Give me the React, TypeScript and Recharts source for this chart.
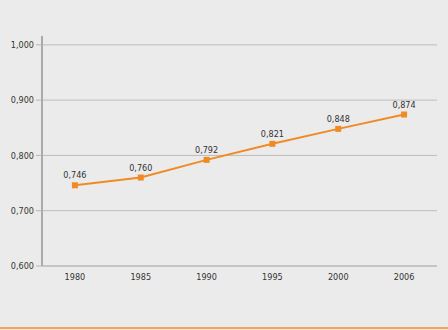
import React from 'react';
import { ComposedChart, Line, XAxis, YAxis, CartesianGrid, LabelList } from 'recharts';

const years = ['1980', '1985', '1990', '1995', '2000', '2006'];
const values = [0.746, 0.76, 0.792, 0.821, 0.848, 0.874];
const yTicks = [0.6, 0.7, 0.8, 0.9, 1.0];

const data = years.map((year, i) => ({ year, value: values[i] }));

const fmt = (v: number) => v.toFixed(3).replace('.', ',');
const font = '"DejaVu Sans Condensed", "Liberation Sans Narrow", "Liberation Sans", sans-serif';

const Square = (props: any) => {
  const { cx, cy } = props;
  return <rect x={cx - 3} y={cy - 3} width={6} height={6} fill="#f08a24" />;
};

const App = () => {
  return (
    <div style={{ position: 'absolute', left: 0, top: 0, width: 448, height: 330, background: '#ebebeb' }}>
      <ComposedChart width={448} height={326} data={data} margin={{ top: 36, right: 11, bottom: 30, left: 0 }}>
        <CartesianGrid vertical={false} horizontalValues={yTicks} stroke="#bdbdbd" strokeWidth={1} />
        <XAxis
          dataKey="year"
          scale="band"
          tickLine={false}
          axisLine={{ stroke: '#b5b5b5', strokeWidth: 1 }}
          tick={{ fill: '#333', fontSize: 9, fontFamily: font }}
          tickMargin={2}
          height={30}
        />
        <YAxis
          domain={[0.6, 1.016]}
          ticks={yTicks}
          interval={0}
          tickFormatter={fmt}
          width={42}
          tickSize={6}
          tickLine={{ stroke: '#b5b5b5' }}
          axisLine={{ stroke: '#aaaaaa', strokeWidth: 2 }}
          tick={{ fill: '#333', fontSize: 9, fontFamily: font }}
          tickMargin={2}
        />
        <Line
          dataKey="value"
          stroke="#f08a24"
          strokeWidth={2}
          dot={<Square />}
          activeDot={false}
          isAnimationActive={false}
        >
          <LabelList
            dataKey="value"
            position="top"
            offset={7}
            formatter={(v: any) => fmt(Number(v))}
            style={{ fill: '#333', fontSize: 9, fontFamily: font }}
          />
        </Line>
      </ComposedChart>
      <div style={{ position: 'absolute', left: 0, top: 327, width: 448, height: 2, background: '#f5a356' }} />
    </div>
  );
};

export default App;
